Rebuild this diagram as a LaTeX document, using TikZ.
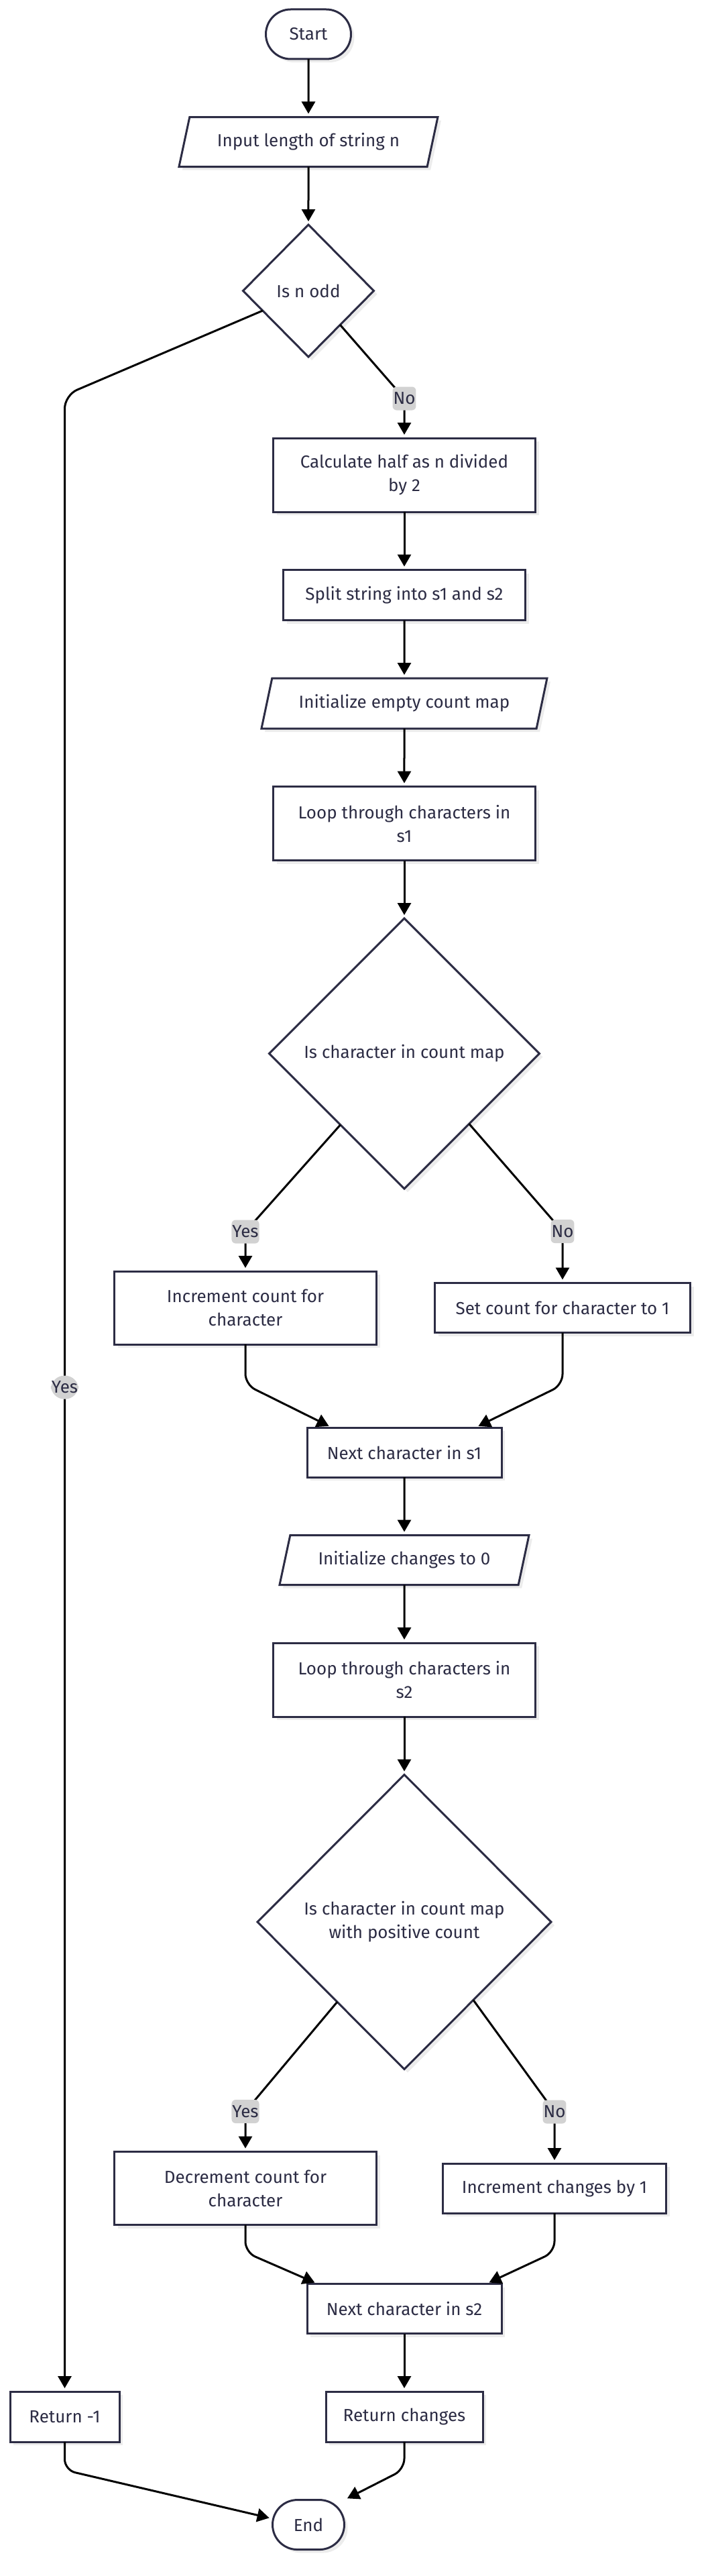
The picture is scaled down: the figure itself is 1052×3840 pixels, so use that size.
\documentclass[tikz,border=0pt]{standalone}
\usepackage{fontspec}
\newfontfamily\plexfont{Fira Sans}
\usepackage{xcolor}
\definecolor{Ink}{HTML}{2C2C44}
\definecolor{LblGray}{HTML}{D2D2D2}
\definecolor{Shade}{HTML}{ECECEC}
\usepackage{tikz}
\usetikzlibrary{arrows.meta,positioning,shapes.geometric,calc,shadows}

\begin{document}
\begin{tikzpicture}[x=1pt,y=1pt,node distance=86.5pt,
  every node/.style={font=\plexfont\fontsize{26}{35}\selectfont,align=center,text=Ink},
  base/.style={draw=Ink,line width=3pt,fill=white,outer sep=0pt,drop shadow={shadow xshift=5pt,shadow yshift=-5pt,fill=Shade,opacity=1}},
  proc/.style={base,rectangle,minimum height=74pt},
  term/.style={base,rectangle,rounded corners=37pt,minimum height=74pt},
  io/.style={base,trapezium,trapezium left angle=64,trapezium right angle=116,trapezium stretches body,minimum height=74pt},
  decide/.style={base,diamond,inner sep=2pt},
  flow/.style={-{Triangle[length=18pt,width=20pt]},line width=3pt,shorten >=5pt},
  lbl/.style={fill=LblGray,inner xsep=1pt,inner ysep=0pt,minimum height=35pt}]
\useasboundingbox (0,0) rectangle (1052,-3840);
% main column
\node[term,minimum width=127pt] (start) at (460,-51) {Start};
\node[io,minimum width=386pt,below=of start] (input) {Input length of string n};
\node[decide,minimum width=195pt,minimum height=197pt,below=of input] (d1) {Is n odd};
\node[proc,minimum width=391pt,minimum height=110pt,below=121pt of d1,xshift=143pt] (calc) {Calculate half as n divided\\by 2};
\node[proc,minimum width=361pt,minimum height=75pt,below=of calc] (split) {Split string into s1 and s2};
\node[io,minimum width=426pt,minimum height=75pt,below=of split] (init1) {Initialize empty count map};
\node[proc,minimum width=391pt,minimum height=110pt,below=of init1] (loop1) {Loop through characters in\\s1};
\node[decide,minimum width=403pt,minimum height=403pt,below=of loop1] (d2) {Is character in count map};
\node[proc,minimum width=391pt,minimum height=109pt,below=123pt of d2,xshift=-237pt] (inc) {Increment count for\\character};
\node[proc,minimum width=381pt,right=87pt of inc] (set) {Set count for character to 1};
\node[proc,minimum width=290pt,below=356pt of d2] (nx1) {Next character in s1};
\node[io,minimum width=372pt,below=of nx1] (init2) {Initialize changes to 0};
\node[proc,minimum width=391pt,minimum height=110pt,below=of init2] (loop2) {Loop through characters in\\s2};
\node[decide,minimum width=438pt,minimum height=439pt,below=of loop2] (d3) {Is character in count map\\with positive count};
\node[proc,minimum width=391pt,minimum height=109pt,below=123pt of d3,xshift=-237pt] (dec) {Decrement count for\\character};
\node[proc,minimum width=333pt,right=99pt of dec] (inc2) {Increment changes by 1};
\node[proc,minimum width=290pt,below=320pt of d3] (nx2) {Next character in s2};
\node[proc,minimum width=234pt,minimum height=75pt,below=of nx2] (ret) {Return changes};
\node[proc,minimum width=163pt,minimum height=75pt,left=308pt of ret] (r1) {Return -1};
\node[term,minimum width=107pt,below=of ret,xshift=-143pt] (end) {End};
% connectors
\draw[flow] (start) -- (input);
\draw[flow] (input) -- (d1);
\draw[flow,rounded corners=20pt] ($(d1.west)!.3!(d1.south)$) -- ($(r1.north |- d1.south)+(0,-57)$) -- node[lbl,pos=.497]{Yes} (r1.north);
\draw[flow,rounded corners=6pt] ($(d1.east)!.515!(d1.south)$) -- node[lbl,pos=1]{No} ($(calc.north)+(0,59)$) -- (calc.north);
\draw[flow] (calc) -- (split);
\draw[flow] (split) -- (init1);
\draw[flow] (init1) -- (loop1);
\draw[flow] (loop1) -- (d2);
\draw[flow,rounded corners=6pt] ($(d2.west)!.527!(d2.south)$) -- node[lbl,pos=1]{Yes} ($(inc.north)+(0,59)$) -- (inc.north);
\draw[flow,rounded corners=6pt] ($(d2.east)!.52!(d2.south)$) -- node[lbl,pos=1]{No} ($(set.north)+(0,77)$) -- (set.north);
\draw[flow,rounded corners=16pt] (inc.south) -- ++(0,-60) -- ($(nx1.north)+(-108,0)$);
\draw[flow,rounded corners=16pt] (set.south) -- ++(0,-78) -- ($(nx1.north)+(106,0)$);
\draw[flow] (nx1) -- (init2);
\draw[flow] (init2) -- (loop2);
\draw[flow] (loop2) -- (d3);
\draw[flow,rounded corners=6pt] ($(d3.west)!.543!(d3.south)$) -- node[lbl,pos=1]{Yes} ($(dec.north)+(0,60)$) -- (dec.north);
\draw[flow,rounded corners=6pt] ($(d3.east)!.53!(d3.south)$) -- node[lbl,pos=1]{No} ($(inc2.north)+(0,77)$) -- (inc2.north);
\draw[flow,rounded corners=16pt] (dec.south) -- ++(0,-41) -- ($(nx2.north)+(-129,0)$);
\draw[flow,rounded corners=16pt] (inc2.south) -- ++(0,-58) -- ($(nx2.north)+(122,0)$);
\draw[flow] (nx2) -- (ret);
\draw[flow,rounded corners=16pt] (r1.south) -- ++(0,-42) -- ($(end.west)+(0,9)$);
\draw[flow,rounded corners=16pt] (ret.south) -- ++(0,-41) -- (end.north east);
\end{tikzpicture}
\end{document}
